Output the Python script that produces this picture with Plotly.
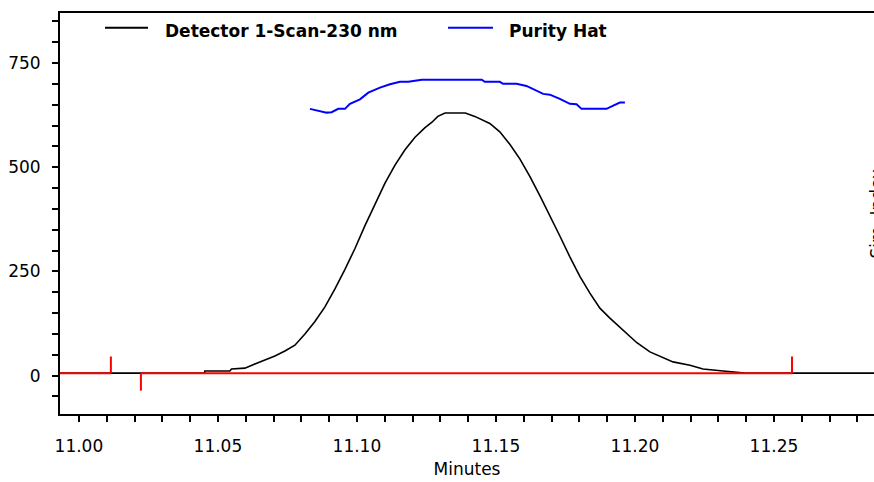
import plotly.graph_objects as go

# ---- data ----
series_names = ["Detector 1-Scan-230 nm", "Purity Hat"]

det_time = [10.993, 11.0452, 11.0453, 11.0543, 11.0549, 11.0597, 11.0633, 11.0669, 11.0705, 11.0741,
            11.0777, 11.0813, 11.0849, 11.0885, 11.0921, 11.0957, 11.0993, 11.1029, 11.1065,
            11.1101, 11.1137, 11.1173, 11.1209, 11.1245, 11.1270, 11.1291, 11.1317, 11.1390,
            11.1424, 11.1478, 11.1514, 11.1550, 11.1586, 11.1622, 11.1658, 11.1694, 11.1730,
            11.1766, 11.1802, 11.1838, 11.1874, 11.1910, 11.1946, 11.1982, 11.2007, 11.2054,
            11.2137, 11.2198, 11.2245, 11.2317, 11.2388, 11.2396, 11.290]
det_signal = [6, 6, 11, 11, 16, 18, 28, 37, 47, 59,
              73, 100, 130, 165, 208, 255, 305, 360, 412,
              462, 505, 542, 572, 595, 608, 622, 630, 630,
              622, 605, 585, 555, 520, 478, 432, 385, 335,
              285, 238, 198, 162, 138, 116, 95, 79, 57,
              33, 25, 16, 11, 8, 6, 6]

hat_time = [11.0831, 11.0867, 11.0891, 11.0909, 11.0933, 11.0957, 11.0975, 11.1011, 11.1041,
            11.1083, 11.1119, 11.1155, 11.1185, 11.1233, 11.1323, 11.1449, 11.1460, 11.1514,
            11.1526, 11.1574, 11.1610, 11.1634, 11.1670, 11.1694, 11.1730, 11.1766, 11.1790,
            11.1808, 11.1898, 11.1922, 11.1946, 11.1964]
hat_value = [640, 635, 631, 632, 640, 640, 652, 663, 679,
             691, 699, 705, 705, 710, 710, 710, 705, 705,
             700, 700, 695, 687, 676, 674, 664, 652, 651,
             640, 640, 648, 655, 655]

# integration baseline segments and event ticks
baseline_start = [10.993, 11.0223]
baseline_end = [11.0115, 11.2565]
baseline_level = 6
tick_time = [11.0115, 11.0223, 11.2565]
tick_top = [46, -36, 46]

x_tick_labels = ["11.00", "11.05", "11.10", "11.15", "11.20", "11.25"]
y_tick_values = [0, 250, 500, 750]

FONT = "DejaVu Sans"
fig = go.Figure()

fig.add_trace(go.Scatter(x=det_time, y=det_signal, mode="lines", name=series_names[0],
                         line=dict(color="black", width=1.6), showlegend=False))
fig.add_trace(go.Scatter(x=hat_time, y=hat_value, mode="lines", name=series_names[1],
                         line=dict(color="#0000ff", width=2), showlegend=False))

red_x, red_y = [], []
for a, b in zip(baseline_start, baseline_end):
    red_x += [a, b, None]
    red_y += [baseline_level, baseline_level, None]
for t, top in zip(tick_time, tick_top):
    red_x += [t, t, None]
    red_y += [baseline_level, top, None]
fig.add_trace(go.Scatter(x=red_x, y=red_y, mode="lines", line=dict(color="#ff0000", width=2),
                         showlegend=False, hoverinfo="skip"))

# manual legend
leg_items = [(series_names[0], "black", 0.0553, 0.1081, 0.1265),
             (series_names[1], "#0000ff", 0.4767, 0.5319, 0.5491)]
for name, col, x0, x1, xt in leg_items:
    fig.add_shape(type="line", xref="paper", yref="paper", x0=x0, x1=x1, y0=0.963, y1=0.963,
                  line=dict(color=col, width=2))
    fig.add_annotation(xref="paper", yref="paper", x=xt, y=0.956, xanchor="left", yanchor="middle",
                       text="<b>%s</b>" % name, showarrow=False,
                       font=dict(family=FONT, size=17, color="black"))

# right axis title (clipped by the window edge, as in the reference)
fig.add_annotation(xref="paper", yref="paper", x=1, y=0.5, xanchor="left", yanchor="middle",
                   xshift=-10, text="Sim. Index", textangle=-90, showarrow=False,
                   font=dict(family=FONT, size=17, color="black"))

fig.update_layout(
    width=874, height=482,
    margin=dict(l=60, r=0, t=13, b=68),
    paper_bgcolor="white", plot_bgcolor="white",
    font=dict(family=FONT, size=17, color="black"),
    xaxis=dict(range=[10.9932, 11.286], tickmode="array",
               tickvals=[float(v) for v in x_tick_labels], ticktext=x_tick_labels,
               ticks="", showgrid=False, zeroline=False,
               showline=True, linecolor="black", linewidth=2, mirror=True,
               ticklabelstandoff=16,
               minor=dict(dtick=0.01, tick0=11.0, ticks="outside", ticklen=6, tickwidth=2,
                          tickcolor="black", showgrid=False),
               title=dict(text="Minutes", font=dict(family=FONT, size=17), standoff=8)),
    yaxis=dict(range=[-92, 870], tickmode="array", tickvals=y_tick_values,
               ticks="", showgrid=False, zeroline=False,
               showline=True, linecolor="black", linewidth=2,
               ticklabelstandoff=14,
               minor=dict(dtick=50, tick0=0, ticks="outside", ticklen=6, tickwidth=2,
                          tickcolor="black", showgrid=False)),
)

fig.write_html("out.html")
